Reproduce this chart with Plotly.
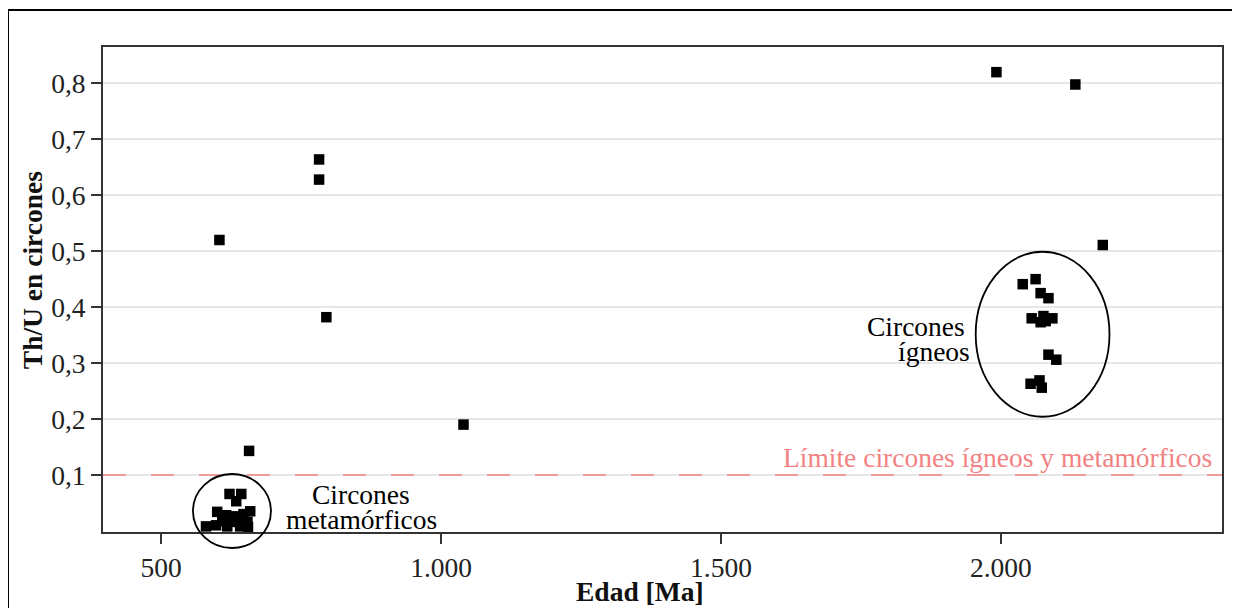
import plotly.graph_objects as go

# Isolated zircons
iso_age = [1992, 2133, 2182, 604, 782, 782, 795, 1040, 657]
iso_thu = [0.820, 0.798, 0.511, 0.520, 0.664, 0.628, 0.382, 0.190, 0.143]

# Igneous cluster
ign_age = [2039, 2062, 2071, 2085, 2055, 2076, 2080, 2092, 2071, 2085, 2099, 2053, 2069, 2073]
ign_thu = [0.441, 0.450, 0.425, 0.416, 0.380, 0.384, 0.375, 0.380, 0.373, 0.315, 0.306, 0.263, 0.269, 0.256]

# Metamorphic cluster
met_age = [622, 643, 634, 600, 616, 630, 647, 659, 609, 623, 638, 654, 580, 598, 618, 641, 655]
met_thu = [0.066, 0.066, 0.053, 0.034, 0.028, 0.026, 0.030, 0.035, 0.017, 0.016, 0.019, 0.016,
           0.008, 0.010, 0.008, 0.008, 0.007]

x_ticks = [500, 1000, 1500, 2000]
y_ticks = [0.1, 0.2, 0.3, 0.4, 0.5, 0.6, 0.7, 0.8]
limit = 0.1

ages = iso_age + ign_age + met_age
thus = iso_thu + ign_thu + met_thu

SERIF = "Liberation Serif, Times New Roman, serif"
SALMON = "#f28282"
FS = 27.5

fig = go.Figure()
fig.add_trace(go.Scatter(
    x=ages, y=thus, mode="markers",
    marker=dict(symbol="square", size=10.5, color="black", line=dict(width=0)),
    showlegend=False, cliponaxis=False,
))

fig.add_shape(type="line", xref="paper", yref="y", x0=0, x1=1, y0=limit, y1=limit,
              line=dict(color=SALMON, width=1.5, dash="23px,25px"), layer="above")

fig.add_annotation(xref="paper", yref="y", x=0.993, y=limit, yshift=17, xanchor="right",
                   text="Límite circones ígneos y metamórficos", showarrow=False,
                   font=dict(family=SERIF, size=FS, color=SALMON))

# Ellipses
fig.add_shape(type="circle", xref="paper", yref="paper",
              x0=0.0804, x1=0.1501, y0=-0.033, y1=0.1196,
              line=dict(color="black", width=1.8))
fig.add_shape(type="circle", xref="x", yref="y",
              x0=1955, x1=2194, y0=0.204, y1=0.499,
              line=dict(color="black", width=1.8))

txt = dict(family=SERIF, size=FS, color="black")
fig.add_annotation(xref="x", yref="y", x=857, y=0.065, text="Circones",
                   showarrow=False, font=txt)
fig.add_annotation(xref="x", yref="y", x=857, y=0.020, text="metamórficos",
                   showarrow=False, font=txt)
fig.add_annotation(xref="x", yref="y", x=1848, y=0.365, text="Circones",
                   showarrow=False, font=txt)
fig.add_annotation(xref="x", yref="y", x=1880, y=0.320, text="ígneos",
                   showarrow=False, font=txt)

# Axis titles
fig.add_annotation(xref="paper", yref="paper", x=0.48, y=-0.1237, text="<b>Edad [Ma]</b>",
                   showarrow=False, yanchor="middle",
                   font=dict(family=SERIF, size=FS, color="#111"))
fig.add_annotation(xref="paper", yref="paper", x=-0.0634, y=0.54, text="<b>Th/U en circones</b>",
                   showarrow=False, textangle=-90, xanchor="center", yanchor="middle",
                   font=dict(family=SERIF, size=FS, color="#111"))

# Outer frame
fig.add_shape(type="rect", xref="paper", yref="paper",
              x0=-0.0849, x1=1.0134, y0=-0.3, y1=1.0763,
              line=dict(color="black", width=2))

fig.update_layout(
    width=1232, height=600,
    margin=dict(l=95, r=18, t=39, b=76, autoexpand=False),
    paper_bgcolor="white", plot_bgcolor="white",
    separators=",.",
    font=dict(family=SERIF, size=FS, color="#222"),
    xaxis=dict(
        range=[396, 2395], tickvals=x_ticks, separatethousands=True, automargin=False,
        showgrid=False, zeroline=False,
        showline=True, linecolor="#333", linewidth=2, mirror=True,
        ticks="outside", ticklen=10, tickcolor="#333", tickwidth=2,
        tickfont=dict(family=SERIF, size=FS, color="#222"),
    ),
    yaxis=dict(
        range=[-0.002, 0.865], tickvals=y_ticks, tickformat=".1f", automargin=False,
        showgrid=True, gridcolor="#e6e6e6", gridwidth=1.5, zeroline=False,
        showline=True, linecolor="#333", linewidth=2, mirror=True,
        ticks="outside", ticklen=10, tickcolor="#333", tickwidth=2,
        tickfont=dict(family=SERIF, size=FS, color="#222"),
    ),
)

fig.write_html("out.html")
